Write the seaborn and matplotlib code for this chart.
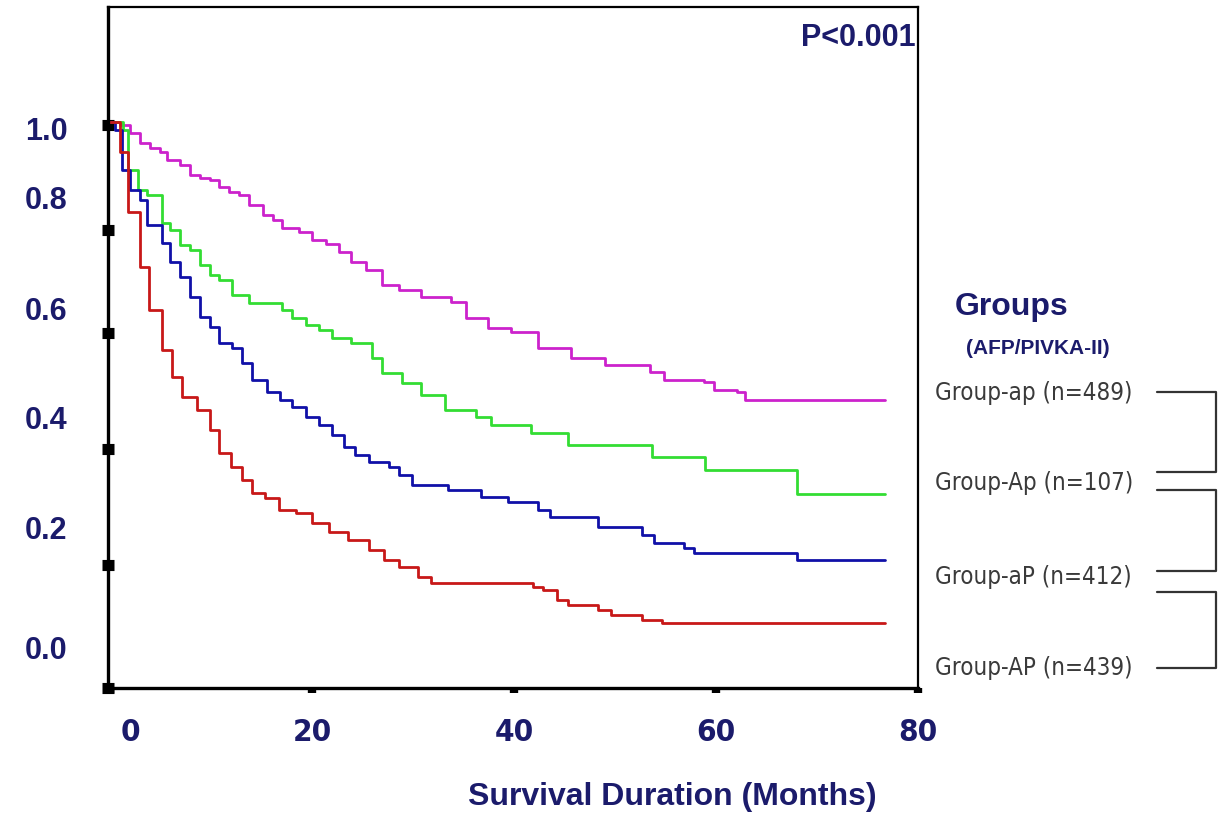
import numpy as np
import pandas as pd
import matplotlib
matplotlib.use("Agg")
import matplotlib.pyplot as plt
import seaborn as sns
from matplotlib.lines import Line2D
from matplotlib import font_manager as fm

# ---------------- data ----------------
groups = ["Group-ap", "Group-Ap", "Group-aP", "Group-AP"]
group_n = [489, 107, 412, 439]
colors = ["#CC22CC", "#33DD33", "#1010A8", "#C81818"]
end_time = 76.7  # end of follow-up (months)

t_ap = [0, 0.99, 1.97, 2.96, 3.94, 4.93, 5.6, 6.9, 7.9, 8.9, 9.9, 10.8, 11.8, 12.8,
        13.8, 15.1, 16.1, 17.0, 18.7, 20.0, 21.4, 22.7, 23.9, 25.3, 26.9, 28.6, 30.8,
        33.8, 35.2, 37.4, 39.7, 42.4, 45.6, 49.0, 53.5, 54.9, 58.8, 59.8, 62.1, 62.9]
s_ap = [1.0, 0.995, 0.981, 0.963, 0.954, 0.947, 0.933, 0.924, 0.906, 0.901, 0.898,
        0.885, 0.876, 0.871, 0.853, 0.836, 0.827, 0.813, 0.806, 0.792, 0.784, 0.770,
        0.753, 0.739, 0.712, 0.703, 0.691, 0.682, 0.654, 0.636, 0.629, 0.601, 0.583,
        0.571, 0.558, 0.544, 0.541, 0.527, 0.523, 0.509]

t_Ap = [0, 1.3, 1.8, 2.8, 3.7, 5.1, 5.9, 6.9, 7.9, 8.9, 9.9, 10.8, 12.1, 13.8, 17.0,
        18.0, 19.4, 20.7, 22.0, 23.9, 25.9, 26.9, 28.9, 30.8, 33.2, 36.2, 37.7, 41.7,
        45.3, 53.7, 58.9, 68.0]
s_Ap = [1.0, 0.986, 0.915, 0.880, 0.871, 0.822, 0.809, 0.783, 0.774, 0.747, 0.730,
        0.721, 0.694, 0.680, 0.668, 0.654, 0.641, 0.633, 0.618, 0.610, 0.583, 0.557,
        0.539, 0.518, 0.491, 0.479, 0.465, 0.451, 0.429, 0.408, 0.385, 0.343]

t_aP = [0, 0.5, 1.2, 2.0, 3.0, 3.7, 5.1, 5.9, 6.9, 7.9, 8.9, 9.9, 10.8, 12.1, 13.1,
        14.1, 15.5, 16.8, 18.0, 19.4, 20.7, 22.0, 23.2, 24.3, 25.6, 27.6, 28.6, 29.9,
        33.5, 36.7, 39.4, 42.4, 43.6, 48.3, 52.7, 53.9, 56.8, 57.8, 68.0]
s_aP = [1.0, 0.986, 0.915, 0.880, 0.862, 0.818, 0.786, 0.753, 0.726, 0.691, 0.655,
        0.638, 0.610, 0.601, 0.574, 0.544, 0.523, 0.509, 0.496, 0.479, 0.465, 0.447,
        0.426, 0.412, 0.399, 0.390, 0.376, 0.359, 0.350, 0.337, 0.329, 0.314, 0.302,
        0.284, 0.270, 0.256, 0.247, 0.239, 0.226]

t_AP = [0, 1.0, 1.8, 3.0, 3.9, 5.1, 6.1, 7.1, 8.6, 9.9, 10.8, 12.0, 13.1, 14.1, 15.3,
        16.7, 18.4, 20.0, 21.7, 23.6, 25.6, 27.1, 28.6, 30.5, 31.8, 41.9, 42.9, 44.3,
        45.3, 48.3, 49.6, 52.7, 54.7]
s_AP = [1.0, 0.947, 0.841, 0.744, 0.668, 0.597, 0.549, 0.514, 0.491, 0.456, 0.415,
        0.390, 0.367, 0.345, 0.336, 0.314, 0.309, 0.292, 0.276, 0.261, 0.244, 0.226,
        0.214, 0.196, 0.186, 0.178, 0.173, 0.155, 0.147, 0.138, 0.129, 0.120, 0.115]

ytick_marks = [0.995, 0.809, 0.627, 0.422, 0.217, 0.0]
ytick_label_pos = [0.989, 0.866, 0.671, 0.477, 0.283, 0.071]
ytick_labels = ["1.0", "0.8", "0.6", "0.4", "0.2", "0.0"]
xtick_marks = [0, 20, 40, 60, 80]
xtick_labels = ["", "20", "40", "60", "80"]
xzero_label_pos = [2.0]
xzero_label = ["0"]

# --------------- build table ---------------
series_t = [t_ap, t_Ap, t_aP, t_AP]
series_s = [s_ap, s_Ap, s_aP, s_AP]
frames = []
for g, t, s in zip(groups, series_t, series_s):
    tt = list(t) + [end_time]
    ss = list(s) + [s[-1]]
    frames.append(pd.DataFrame({"time": tt, "survival": ss, "group": g}))
df = pd.concat(frames, ignore_index=True)

# --------------- fonts ---------------
sns.set_style("white")
plt.rcParams["font.family"] = ["Liberation Sans", "DejaVu Sans"]
navy = "#1B1B6B"


def find_condensed(bold):
    """Look for an installed condensed / narrow sans face."""
    want_w = 700 if bold else 400
    cands = []
    for f in fm.fontManager.ttflist:
        nm = f.name.lower()
        path = str(f.fname).lower()
        is_cond = ("narrow" in nm or "condensed" in nm or "narrow" in path
                   or "condensed" in path
                   or str(f.stretch) in ("condensed", "semi-condensed", "extra-condensed"))
        if not is_cond or "mono" in path or ("serif" in path and "sans" not in path):
            continue
        try:
            w = int(f.weight)
        except Exception:
            w = 700 if "bold" in str(f.weight) else 400
        if "oblique" in path or "italic" in path or f.style != "normal":
            continue
        cands.append((abs(w - want_w), path, f.fname))
    if not cands:
        return None
    cands.sort()
    return fm.FontProperties(fname=cands[0][2])


cond_regular = find_condensed(False)
cond_bold = find_condensed(True)

W, H = 1220, 822
fig = plt.figure(figsize=(W / 100, H / 100), dpi=100)
ax = fig.add_axes([108 / W, 1 - 688 / H, 810 / W, 681 / H])

sns.lineplot(data=df, x="time", y="survival", hue="group",
             palette=dict(zip(groups, colors)), hue_order=groups,
             drawstyle="steps-post", estimator=None, sort=False,
             linewidth=2.0, legend=False, ax=ax)

ax.set_xlim(-0.2, 80)
ax.set_ylim(0, 1.203)

for side in ["left", "bottom"]:
    ax.spines[side].set_linewidth(2.4)
    ax.spines[side].set_color("black")
for side in ["top", "right"]:
    ax.spines[side].set_linewidth(1.6)
    ax.spines[side].set_color("black")

# y ticks: square marks (major) + labels (minor)
ax.set_yticks(ytick_marks)
ax.set_yticklabels([""] * len(ytick_marks))
ax.set_yticks(ytick_label_pos, minor=True)
ax.set_yticklabels(ytick_labels, minor=True)
ax.tick_params(axis="y", which="major", direction="inout", length=8, width=8,
               color="black", left=True)
ax.tick_params(axis="y", which="minor", length=0, pad=29, labelsize=22,
               labelcolor=navy, left=True)
for lbl in ax.get_yticklabels(minor=True):
    lbl.set_fontweight("bold")

# x ticks
ax.set_xticks(xtick_marks)
ax.set_xticklabels(xtick_labels)
ax.set_xticks(xzero_label_pos, minor=True)
ax.set_xticklabels(xzero_label, minor=True)
ax.tick_params(axis="x", which="major", direction="out", length=3.5, width=6,
               color="black", pad=18, labelsize=22, labelcolor=navy, bottom=True)
ax.tick_params(axis="x", which="minor", length=0, pad=21.5, labelsize=22,
               labelcolor=navy, bottom=True)
for lbl in ax.get_xticklabels() + ax.get_xticklabels(minor=True):
    if cond_bold is not None:
        lbl.set_fontproperties(cond_bold)
        lbl.set_fontsize(22.5)
    else:
        lbl.set_fontweight("bold")
        lbl.set_fontsize(21)

ax.set_ylabel("")
ax.set_xlabel("Survival Duration (Months)", fontsize=23, fontweight="bold",
              color=navy)
ax.xaxis.set_label_coords((672 - 108) / 810, -(797 - 688) / 681)
ax.xaxis.label.set_va("center")

ax.text((916 - 108) / 810, 1 - (38 - 7) / 681, "P<0.001", transform=ax.transAxes,
        ha="right", va="center", fontsize=22, fontweight="bold", color=navy)


# --------------- group legend & brackets ---------------
def fx(x):
    return x / W


def fy(y):
    return 1 - y / H


fig.text(fx(955), fy(307), "Groups", ha="left", va="center", fontsize=23,
         fontweight="bold", color=navy)
fig.text(fx(966), fy(348), "(AFP/PIVKA-II)", ha="left", va="center", fontsize=15,
         fontweight="bold", color=navy)

label_y = [393, 483, 577, 668]
for g, n, y in zip(groups, group_n, label_y):
    t = fig.text(fx(935), fy(y), f"{g} (n={n})", ha="left", va="center",
                 color="#3A3A3A")
    if cond_regular is not None:
        t.set_fontproperties(cond_regular)
        t.set_fontsize(17.3)
    else:
        t.set_fontsize(17.5)

brackets = [(392, 472), (490, 571), (592, 668)]
for top, bot in brackets:
    fig.add_artist(Line2D([fx(1157), fx(1216), fx(1216), fx(1157)],
                          [fy(top), fy(top), fy(bot), fy(bot)],
                          transform=fig.transFigure, color="#333333", lw=1.6))

fig.savefig("out.png", dpi=100)
